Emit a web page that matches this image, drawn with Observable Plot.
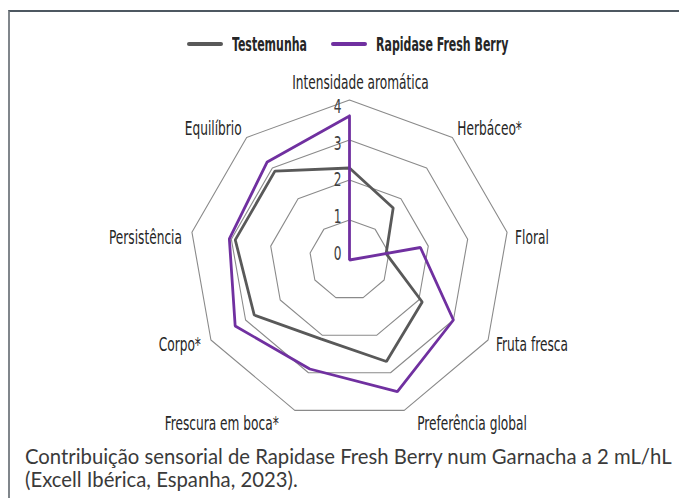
<!DOCTYPE html>
<html><head><meta charset="utf-8">
<script src="https://cdn.jsdelivr.net/npm/d3@7"></script>
<script src="https://cdn.jsdelivr.net/npm/@observablehq/plot@0.6"></script>
<style>
html,body{margin:0;padding:0;background:#fff;width:679px;height:498px;overflow:hidden;position:relative;}
#frame{position:absolute;left:8px;top:10px;width:671px;height:488px;border-top:2px solid #4e5861;border-left:2px solid #80868b;box-sizing:border-box;}
#legend{position:absolute;top:32px;left:0;width:679px;height:24px;}
.sw{position:absolute;top:10px;height:4px;border-radius:2px;width:36px;}
.lt{position:absolute;top:0;font:bold 20px "Liberation Sans Narrow","DejaVu Sans Condensed",sans-serif;line-height:24px;color:#262626;transform-origin:0 50%;white-space:nowrap;}
#chart{position:absolute;top:60px;left:0;}
#caption{position:absolute;left:25px;top:445px;font:20.3px Lato,sans-serif;line-height:23px;color:#3a3a3a;white-space:nowrap;}
</style></head>
<body>
<div id="frame"></div>
<div id="legend"></div>
<div id="chart"></div>
<div id="caption">Contribuição sensorial de Rapidase Fresh Berry num Garnacha a 2 mL/hL<br>(Excell Ibérica, Espanha, 2023).</div>
<script>
const categories = ["Intensidade aromática","Herbáceo*","Floral","Fruta fresca","Preferência global","Frescura em boca*","Corpo*","Persistência","Equilíbrio"];
const seriesNames = ["Testemunha","Rapidase Fresh Berry"];
const testemunha = [2.3, 1.7, 0.93, 2.1, 2.7, 2.1, 2.75, 2.9, 2.9];
const rapidase = [3.6, 0, 1.8, 3.0, 3.5, 2.9, 3.3, 3.05, 3.2];
const levels = [1, 2, 3, 4];
const tickLabels = ["0","1","2","3","4"];

const colors = ["#595959", "#7030a0"];
const n = categories.length;
const maxV = 4;
const ang = i => i * 2 * Math.PI / n;
const px = (r, i) => r * Math.sin(ang(i));
const py = (r, i) => r * Math.cos(ang(i));

const rings = levels.flatMap(l => d3.range(n + 1).map(j => ({level: l, x: px(l, j % n), y: py(l, j % n)})));
const seriesValues = [testemunha, rapidase];
const pts = seriesNames.flatMap((s, k) => d3.range(n + 1).map(j => ({series: s, x: px(seriesValues[k][j % n], j % n), y: py(seriesValues[k][j % n], j % n)})));
const labels = categories.map((c, i) => ({name: c, i, x: px(maxV, i), y: py(maxV, i)}));

const font = '"Liberation Sans Narrow","DejaVu Sans Condensed",sans-serif';
const cx = 349, cy = 199.5, R = 160;
// tick labels sit slightly compressed toward the middle of the axis, as in the original
const tickSqueeze = 0.92;
const groups = [
  {idx: [0], anchor: "middle", dx: 11, dy: -17},
  {idx: [1], anchor: "start", dx: 5, dy: -9},
  {idx: [2, 3], anchor: "start", dx: 8, dy: 5},
  {idx: [4], anchor: "start", dx: 13, dy: 13},
  {idx: [5], anchor: "end", dx: -16, dy: 13},
  {idx: [6, 7], anchor: "end", dx: -10, dy: 5},
  {idx: [8], anchor: "end", dx: -5, dy: -9}
];

const chart = Plot.plot({
  width: 679, height: 380, margin: 0,
  style: {fontFamily: font, background: "transparent", overflow: "visible"},
  x: {domain: [-maxV, maxV], range: [cx - R, cx + R], axis: null},
  y: {domain: [-maxV, maxV], range: [cy + R, cy - R], axis: null},
  color: {domain: seriesNames, range: colors},
  marks: [
    Plot.line(rings, {x: "x", y: "y", z: "level", stroke: "#8a8a8a", strokeWidth: 1.1, strokeLinejoin: "miter"}),
    Plot.line(pts, {x: "x", y: "y", z: "series", stroke: "series", strokeWidth: 2.8, strokeLinejoin: "miter"}),
    Plot.text(tickLabels, {x: 0, y: d => (+d - maxV / 2) * tickSqueeze + maxV / 2, text: d => d, textAnchor: "end", dx: -8, fontSize: 20, fill: "#404040"}),
    ...groups.map(g => Plot.text(labels.filter(d => g.idx.includes(d.i)), {x: "x", y: "y", text: "name", textAnchor: g.anchor, dx: g.dx, dy: g.dy, fontSize: 20, fill: "#262626"}))
  ]
});
document.getElementById("chart").appendChild(chart);

// condense text to match the narrow typeface of the original
const texts = Array.from(chart.querySelectorAll("text"));
const ref = texts.find(t => t.textContent === "Persistência");
const K = ref ? 73 / ref.getComputedTextLength() : 0.86;
texts.forEach(t => {
  const len = t.getComputedTextLength();
  t.setAttribute("textLength", len * K);
  t.setAttribute("lengthAdjust", "spacingAndGlyphs");
});

// legend
const legend = document.getElementById("legend");
const swLeft = [187, 331], txtLeft = [232, 376];
const spans = seriesNames.map((s, k) => {
  const sw = document.createElement("div");
  sw.className = "sw"; sw.style.left = swLeft[k] + "px"; sw.style.background = colors[k];
  legend.appendChild(sw);
  const t = document.createElement("div");
  t.className = "lt"; t.style.left = txtLeft[k] + "px"; t.textContent = s;
  legend.appendChild(t);
  return t;
});
const Kb = 75 / spans[0].getBoundingClientRect().width;
spans.forEach(t => t.style.transform = `scaleX(${Kb})`);
</script>
</body></html>
